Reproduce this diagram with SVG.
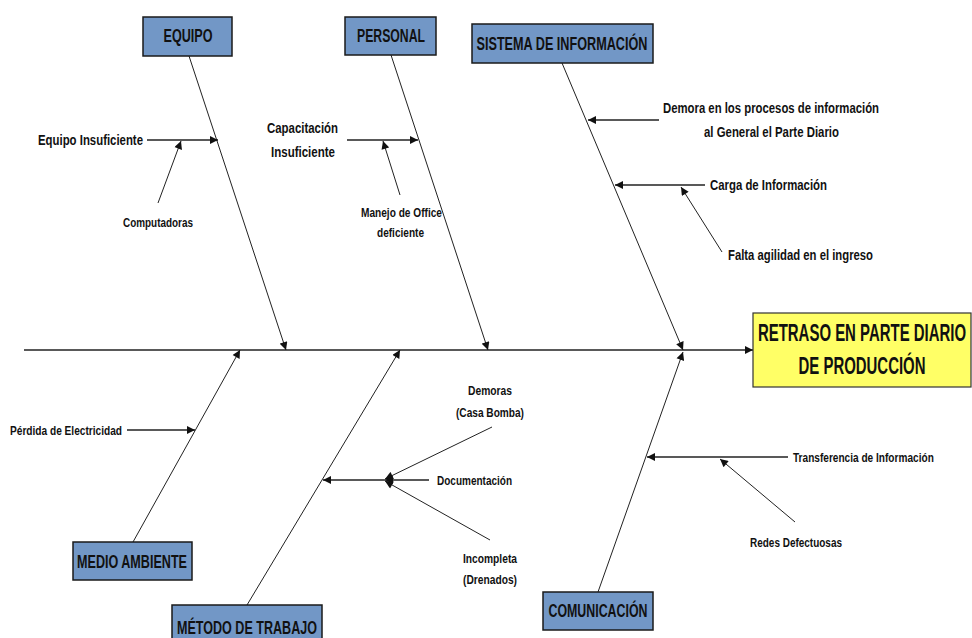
<svg xmlns="http://www.w3.org/2000/svg" width="972" height="638" viewBox="0 0 972 638">
<defs>
<style>
.box{fill:#7297C6;stroke:#1a1a1a;stroke-width:1.5}
.eff{fill:#FFFF66;stroke:#333;stroke-width:1.2}
.t{font-family:"Liberation Sans Narrow","Arial Narrow","Liberation Sans",sans-serif;font-weight:bold;fill:#111}
.h{font-size:18px;text-anchor:middle}
.e{font-size:24px;text-anchor:middle}
.l{font-size:15px}
.s{font-size:13px}
.spine{stroke:#222;stroke-width:1.5;fill:none}
.bone{stroke:#222;stroke-width:1;fill:none}
.br{stroke:#222;stroke-width:1.3;fill:none}
</style>
<marker id="ah" viewBox="0 0 10 10" refX="10" refY="5" markerWidth="9" markerHeight="8" markerUnits="userSpaceOnUse" orient="auto">
<path d="M0,0 L10,5 L0,10 z" fill="#111"/>
</marker>
</defs>
<rect width="972" height="638" fill="#fff"/>

<g id="connectors">
<line class="spine" x1="24" y1="350" x2="753" y2="350" marker-end="url(#ah)"/>
<line class="bone" x1="189" y1="56" x2="286" y2="350" marker-end="url(#ah)"/>
<line class="bone" x1="391" y1="55" x2="488" y2="350" marker-end="url(#ah)"/>
<line class="bone" x1="562" y1="63" x2="683" y2="350" marker-end="url(#ah)"/>
<line class="bone" x1="133" y1="542" x2="240" y2="350" marker-end="url(#ah)"/>
<line class="bone" x1="247" y1="605" x2="400" y2="350" marker-end="url(#ah)"/>
<line class="bone" x1="598" y1="592" x2="683" y2="352" marker-end="url(#ah)"/>

<line class="br" x1="147" y1="140" x2="218" y2="140" marker-end="url(#ah)"/>
<line class="bone" x1="158" y1="203" x2="181" y2="141" marker-end="url(#ah)"/>
<line class="br" x1="347" y1="140" x2="418" y2="140" marker-end="url(#ah)"/>
<line class="bone" x1="400" y1="195" x2="383" y2="141" marker-end="url(#ah)"/>
<line class="br" x1="659" y1="120" x2="588" y2="120" marker-end="url(#ah)"/>
<line class="br" x1="705" y1="185" x2="615" y2="185" marker-end="url(#ah)"/>
<line class="bone" x1="722" y1="252" x2="681" y2="187" marker-end="url(#ah)"/>
<line class="br" x1="127" y1="430" x2="195" y2="430" marker-end="url(#ah)"/>
<line class="bone" x1="492" y1="427" x2="385" y2="479" marker-end="url(#ah)"/>
<line class="br" x1="429" y1="480" x2="385" y2="480" marker-end="url(#ah)"/>
<line class="bone" x1="490" y1="540" x2="385" y2="481" marker-end="url(#ah)"/>
<line class="br" x1="385" y1="480" x2="323" y2="480" marker-end="url(#ah)"/>
<line class="br" x1="788" y1="457" x2="647" y2="457" marker-end="url(#ah)"/>
<line class="bone" x1="795" y1="522" x2="720" y2="459" marker-end="url(#ah)"/>
</g>

<g id="effect">
<rect class="eff" x="753" y="313" width="218" height="74"/>
<text class="t e" transform="translate(862,341) scale(0.625,1)" x="0" y="0" textLength="333" lengthAdjust="spacingAndGlyphs">RETRASO EN PARTE DIARIO</text>
<text class="t e" transform="translate(862,374) scale(0.625,1)" x="0" y="0" textLength="203" lengthAdjust="spacingAndGlyphs">DE PRODUCCIÓN</text>
</g>

<g id="equipo">
<rect class="box" x="143" y="17" width="89" height="39"/>
<text class="t h" x="188" y="42" textLength="49" lengthAdjust="spacingAndGlyphs">EQUIPO</text>
</g>
<g id="personal">
<rect class="box" x="345" y="17" width="91" height="38"/>
<text class="t h" x="391" y="42" textLength="68" lengthAdjust="spacingAndGlyphs">PERSONAL</text>
</g>
<g id="sistema">
<rect class="box" x="472" y="24" width="181" height="39"/>
<text class="t h" x="562" y="50" textLength="171" lengthAdjust="spacingAndGlyphs">SISTEMA DE INFORMACIÓN</text>
</g>
<g id="medio">
<rect class="box" x="73" y="542" width="119" height="38"/>
<text class="t h" x="132" y="568" textLength="110" lengthAdjust="spacingAndGlyphs">MEDIO AMBIENTE</text>
</g>
<g id="metodo">
<rect class="box" x="172" y="605" width="150" height="38"/>
<text class="t h" x="247" y="634" textLength="140" lengthAdjust="spacingAndGlyphs">MÉTODO DE TRABAJO</text>
</g>
<g id="comunicacion">
<rect class="box" x="543" y="592" width="110" height="38"/>
<text class="t h" x="598" y="617" textLength="99" lengthAdjust="spacingAndGlyphs">COMUNICACIÓN</text>
</g>

<g id="causes">
<text class="t l" x="38" y="145" textLength="105" lengthAdjust="spacingAndGlyphs">Equipo Insuficiente</text>
<text class="t s" x="123" y="227" textLength="70" lengthAdjust="spacingAndGlyphs">Computadoras</text>
<text class="t l" x="267" y="133" textLength="71" lengthAdjust="spacingAndGlyphs">Capacitación</text>
<text class="t l" x="271" y="157" textLength="64" lengthAdjust="spacingAndGlyphs">Insuficiente</text>
<text class="t s" x="361" y="217" textLength="81" lengthAdjust="spacingAndGlyphs">Manejo de Office</text>
<text class="t s" x="377" y="237" textLength="47" lengthAdjust="spacingAndGlyphs">deficiente</text>
<text class="t l" x="663" y="113" textLength="216" lengthAdjust="spacingAndGlyphs">Demora en los procesos de información</text>
<text class="t l" x="704" y="137" textLength="135" lengthAdjust="spacingAndGlyphs">al General el Parte Diario</text>
<text class="t l" x="710" y="190" textLength="117" lengthAdjust="spacingAndGlyphs">Carga de Información</text>
<text class="t l" x="728" y="260" textLength="145" lengthAdjust="spacingAndGlyphs">Falta agilidad en el ingreso</text>
<text class="t s" x="10" y="435" textLength="112" lengthAdjust="spacingAndGlyphs">Pérdida de Electricidad</text>
<text class="t s" x="468" y="395" textLength="44" lengthAdjust="spacingAndGlyphs">Demoras</text>
<text class="t s" x="456" y="417" textLength="68" lengthAdjust="spacingAndGlyphs">(Casa Bomba)</text>
<text class="t s" x="437" y="485" textLength="75" lengthAdjust="spacingAndGlyphs">Documentación</text>
<text class="t s" x="463" y="563" textLength="54" lengthAdjust="spacingAndGlyphs">Incompleta</text>
<text class="t s" x="463" y="584" textLength="54" lengthAdjust="spacingAndGlyphs">(Drenados)</text>
<text class="t s" transform="translate(793,462) scale(0.8,1)" x="0" y="0" textLength="176" lengthAdjust="spacingAndGlyphs">Transferencia de Información</text>
<text class="t s" x="750" y="547" textLength="92" lengthAdjust="spacingAndGlyphs">Redes Defectuosas</text>
</g>
</svg>
